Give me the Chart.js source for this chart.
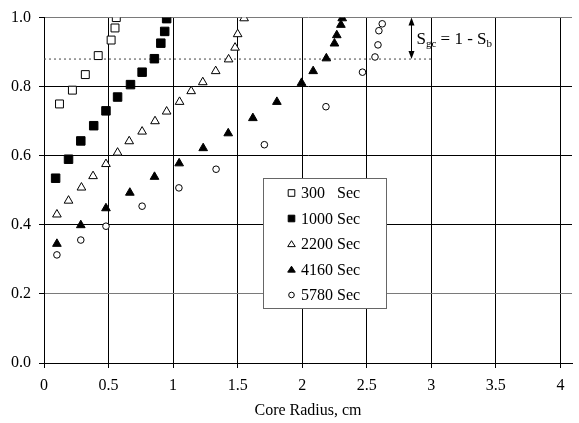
<!DOCTYPE html>
<html><head><meta charset="utf-8">
<script src="https://cdn.jsdelivr.net/npm/chart.js@4.4.0/dist/chart.umd.min.js"></script>
<style>html,body{margin:0;padding:0;background:#fff;}#wrap{width:579px;height:423px;position:relative;}</style>
</head><body><div id="wrap"><canvas id="c" width="579" height="423"></canvas></div>
<script>
// ---- data ----
const seriesNames = ['300   Sec', '1000 Sec', '2200 Sec', '4160 Sec', '5780 Sec'];
const r300  = [0.12, 0.22, 0.32, 0.42, 0.52, 0.55, 0.56];
const s300  = [0.75, 0.79, 0.835, 0.89, 0.935, 0.97, 1.0];
const r1000 = [0.09, 0.19, 0.285, 0.385, 0.48, 0.57, 0.67, 0.76, 0.855, 0.905, 0.935, 0.95];
const s1000 = [0.535, 0.59, 0.643, 0.687, 0.73, 0.77, 0.806, 0.842, 0.881, 0.926, 0.96, 0.997];
const r2200 = [0.10, 0.19, 0.29, 0.38, 0.48, 0.57, 0.66, 0.76, 0.86, 0.95, 1.05, 1.14, 1.23, 1.33, 1.43, 1.48, 1.50, 1.55];
const s2200 = [0.43, 0.47, 0.508, 0.541, 0.576, 0.609, 0.642, 0.67, 0.70, 0.728, 0.756, 0.787, 0.813, 0.845, 0.879, 0.913, 0.952, 0.998];
const r4160 = [0.10, 0.285, 0.48, 0.665, 0.856, 1.047, 1.233, 1.427, 1.618, 1.804, 1.995, 2.085, 2.187, 2.25, 2.268, 2.30, 2.31];
const s4160 = [0.345, 0.399, 0.448, 0.493, 0.539, 0.578, 0.622, 0.665, 0.709, 0.756, 0.811, 0.845, 0.882, 0.925, 0.949, 0.979, 0.998];
const r5780 = [0.10, 0.285, 0.48, 0.76, 1.045, 1.333, 1.707, 2.184, 2.467, 2.564, 2.587, 2.594, 2.62];
const s5780 = [0.313, 0.356, 0.396, 0.454, 0.507, 0.561, 0.632, 0.742, 0.842, 0.886, 0.921, 0.962, 0.982];
const xTicks = [0, 0.5, 1, 1.5, 2, 2.5, 3, 3.5, 4];
const yTicks = [0, 0.2, 0.4, 0.6, 0.8, 1.0];
const sgcLevel = [0.88];          // dotted reference level
const sgcSpan = [0, 3];            // x-range of the dotted line
const arrowAt = [2.84];            // x of the double arrow
const xTitle = 'Core Radius, cm';

// ---- styles ----
const FONT = '"Liberation Serif", "Times New Roman", serif';
const styles = [
  {pointStyle: 'rect', fill: '#fff', r: 5.6},
  {pointStyle: 'rect', fill: '#000', r: 6.0},
  {pointStyle: 'triangle', fill: '#fff', r: 5.0},
  {pointStyle: 'triangle', fill: '#000', r: 5.0},
  {pointStyle: 'circle', fill: '#fff', r: 3.3},
];
const xs = [r300, r1000, r2200, r4160, r5780];
const ys = [s300, s1000, s2200, s4160, s5780];

const datasets = [{
  label: 'Sgc',
  data: sgcSpan.map(x => ({x, y: sgcLevel[0]})),
  showLine: true, borderColor: '#444', borderWidth: 1, borderDash: [2, 3],
  pointRadius: 0, order: 10
}];
seriesNames.forEach((n, i) => {
  datasets.push({
    label: n,
    data: xs[i].map((x, j) => ({x, y: ys[i][j]})),
    showLine: false,
    pointStyle: styles[i].pointStyle,
    pointRadius: styles[i].r,
    pointHoverRadius: styles[i].r,
    backgroundColor: styles[i].fill,
    borderColor: '#000',
    borderWidth: 1,
    order: 1
  });
});

function drawMarker(ctx, st, x, y, s) {
  ctx.save();
  ctx.beginPath();
  if (st.pointStyle === 'rect') {
    ctx.rect(x - s, y - s, 2 * s, 2 * s);
  } else if (st.pointStyle === 'triangle') {
    const w = s * 1.15;
    ctx.moveTo(x, y - s);
    ctx.lineTo(x + w, y + s * 0.8);
    ctx.lineTo(x - w, y + s * 0.8);
    ctx.closePath();
  } else {
    ctx.arc(x, y, s * 0.85, 0, Math.PI * 2);
  }
  ctx.fillStyle = st.fill; ctx.fill();
  ctx.strokeStyle = '#000'; ctx.lineWidth = 1; ctx.stroke();
  ctx.restore();
}

const annot = {
  id: 'annot',
  afterDraw(chart) {
    const ctx = chart.ctx;
    const xS = chart.scales.x, yS = chart.scales.y;
    // legend box
    const L = 263.5, T = 178.5, W = 123, H = 130;
    ctx.save();
    ctx.fillStyle = '#fff';
    ctx.fillRect(L, T, W, H);
    ctx.strokeStyle = '#666'; ctx.lineWidth = 1;
    ctx.strokeRect(L, T, W, H);
    ctx.font = '16px ' + FONT;
    ctx.fillStyle = '#000';
    ctx.textBaseline = 'middle';
    ctx.textAlign = 'left';
    seriesNames.forEach((n, i) => {
      const cy = T + 14.5 + i * 25.5;
      drawMarker(ctx, styles[i], 291.5, cy, 3.3);
      ctx.fillStyle = '#000';
      ctx.fillText(n, 301, cy + 1);
    });
    // arrow
    const ax = Math.round(xS.getPixelForValue(arrowAt[0])) + 0.5;
    const y1 = yS.getPixelForValue(1.0), y2 = yS.getPixelForValue(sgcLevel[0]);
    ctx.strokeStyle = '#000'; ctx.fillStyle = '#000'; ctx.lineWidth = 1;
    ctx.beginPath(); ctx.moveTo(ax, y1 + 4); ctx.lineTo(ax, y2 - 4); ctx.stroke();
    ctx.beginPath(); ctx.moveTo(ax, y1); ctx.lineTo(ax - 3, y1 + 8); ctx.lineTo(ax + 3, y1 + 8); ctx.closePath(); ctx.fill();
    ctx.beginPath(); ctx.moveTo(ax, y2); ctx.lineTo(ax - 3, y2 - 8); ctx.lineTo(ax + 3, y2 - 8); ctx.closePath(); ctx.fill();
    // label S_gc = 1 - S_b
    const mid = yS.getPixelForValue((1.0 + sgcLevel[0]) / 2);
    const base = mid + 6;
    let tx = ax + 5;
    ctx.textBaseline = 'alphabetic';
    const big = '17px ' + FONT, small = '11px ' + FONT;
    const parts = [['S', big, 0], ['gc', small, 3], [' = 1 - S', big, 0], ['b', small, 3]];
    parts.forEach(([t, f, dy]) => {
      ctx.font = f;
      ctx.fillText(t, tx, base + dy);
      tx += ctx.measureText(t).width;
    });
    ctx.restore();
  }
};

const gridColor = ctx => {
  const v = ctx.tick && ctx.tick.value;
  return (v === 1 || Math.abs(v - 0.2) < 1e-9) ? '#7a7a7a' : '#000';
};

new Chart(document.getElementById('c'), {
  type: 'scatter',
  data: {datasets},
  options: {
    responsive: false,
    animation: false,
    devicePixelRatio: 1,
    layout: {padding: {top: 11, right: 0, bottom: 0, left: 0}},
    plugins: {legend: {display: false}, tooltip: {enabled: false}},
    scales: {
      x: {
        type: 'linear', min: 0, max: 4.09,
        afterBuildTicks: s => { s.ticks = xTicks.map(v => ({value: v})); },
        afterFit: s => { s.height = 60; },
        ticks: {callback: v => String(v), font: {family: FONT, size: 16}, color: '#000', padding: 8, maxRotation: 0, autoSkip: false},
        grid: {color: '#000', lineWidth: 1, tickLength: 5, tickColor: '#000'},
        border: {color: '#000', width: 1},
        title: {display: true, text: xTitle, font: {family: FONT, size: 16}, color: '#000', padding: {top: 0, bottom: 3}}
      },
      y: {
        type: 'linear', min: 0, max: 1,
        afterBuildTicks: s => { s.ticks = yTicks.map(v => ({value: v})); },
        afterFit: s => { s.width = 44; },
        ticks: {callback: v => v.toFixed(1), font: {family: FONT, size: 16}, color: '#000', padding: 8},
        grid: {color: gridColor, lineWidth: 1, tickLength: 5, tickColor: '#000'},
        border: {color: '#000', width: 1}
      }
    }
  },
  plugins: [annot]
});
</script></body></html>
